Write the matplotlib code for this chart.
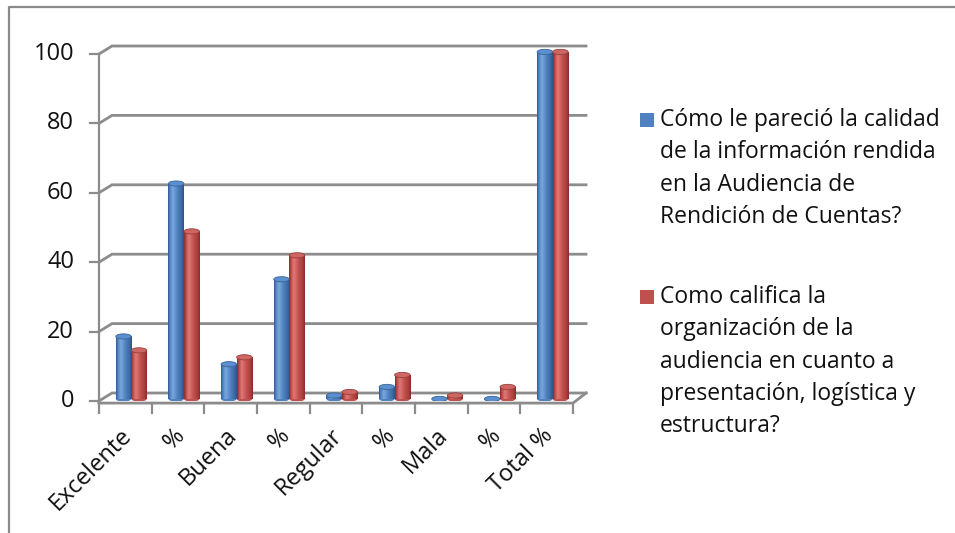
import numpy as np
import matplotlib
matplotlib.use("Agg")
import matplotlib.pyplot as plt
from matplotlib.patches import Ellipse, Rectangle
from matplotlib.colors import LinearSegmentedColormap
from matplotlib.lines import Line2D

# ---------------- data ----------------
categories = ["Excelente", "%", "Buena", "%", "Regular", "%", "Mala", "%", "Total %"]
serie_calidad = [18, 62.07, 10, 34.48, 1, 3.45, 0, 0, 100]
serie_organizacion = [14, 48.28, 12, 41.38, 2, 6.90, 1, 3.45, 100]
series_names = [
    "Cómo le pareció la calidad\nde la información rendida\nen la Audiencia de\nRendición de Cuentas?",
    "Como califica la\norganización de la\naudiencia en cuanto a\npresentación, logística y\nestructura?",
]
yticks = [0, 20, 40, 60, 80, 100]

plt.rcParams["font.family"] = ["Open Sans", "DejaVu Sans"]

W, H = 955, 533
PXX = 52.67   # pixels per category
PXY = 3.47    # pixels per value unit
fig = plt.figure(figsize=(W / 100, H / 100), dpi=100)
ax = fig.add_axes([99 / W, (H - 401) / H, 9.3 * PXX / W, 103 * PXY / H])
ax.axis("off")

dx = 13 / PXX
dy = 8 / PXY
grid_c = "#8c8c8c"
txt_c = "#111111"
FS = 17

# chart border
fig.add_artist(Line2D([9 / W, 9 / W, 1.0], [0.0, 1 - 7 / H, 1 - 7 / H],
                      transform=fig.transFigure, color="#8a8a8a", lw=1.6))

# back wall grid lines + value axis
for v in yticks:
    ax.plot([-0.5, -0.5 + dx, 8.5 + dx], [v, v + dy, v + dy], color=grid_c,
            lw=2.0, clip_on=False, zorder=1, solid_joinstyle="miter")
    ax.plot([-0.5 - 9 / PXX, -0.5], [v, v], color=grid_c, lw=1.6, clip_on=False, zorder=1)
    ax.text(-0.5 - 25 / PXX, v, str(v), ha="right", va="center", fontsize=FS,
            color=txt_c, clip_on=False)
ax.plot([-0.5, -0.5], [-0.5, 100], color=grid_c, lw=1.6, clip_on=False, zorder=1)

# floor front edge and category ticks
fy = -0.6
ax.plot([-0.5, 8.5, 8.5 + dx], [fy, fy, dy], color=grid_c, lw=2.0, clip_on=False, zorder=1)
for k in range(len(categories) + 1):
    ax.plot([-0.5 + k, -0.5 + k], [fy, fy - 2.8], color=grid_c, lw=1.6, clip_on=False, zorder=1)
for i, c in enumerate(categories):
    ax.text(i + 3 / PXX, -9.0, c, rotation=45, ha="right", va="center",
            rotation_mode="anchor", fontsize=FS, color=txt_c, clip_on=False)

# cylinders
w = 15.5 / PXX
base = 0.6
eh = 1.5
styles = [
    dict(off=-0.035, cols=["#2f5689", "#5283c2", "#79a8e0", "#4f81bd", "#3d6aa3", "#2c5283"],
         top="#5b8fcf", edge="#3a659c", face="#4f81bd"),
    dict(off=0.26, cols=["#7f2c2a", "#b84a47", "#df7a77", "#c0504d", "#a83f3c", "#822c2a"],
         top="#cf6663", edge="#97403d", face="#c0504d"),
]
series = [serie_calidad, serie_organizacion]
x = np.arange(len(categories))
grad = np.linspace(0, 1, 256).reshape(1, -1)
for s, (vals, st) in enumerate(zip(series, styles)):
    cmap = LinearSegmentedColormap.from_list(
        "c%d" % s, list(zip([0, 0.12, 0.3, 0.6, 0.85, 1.0], st["cols"])))
    bars = ax.bar(x + st["off"], vals, width=w, bottom=base, color=st["face"],
                  zorder=3 + s, linewidth=0)
    for xi, v, p in zip(x, vals, bars):
        xc = xi + st["off"]
        ax.add_patch(Ellipse((xc, base), w, eh, facecolor=st["cols"][3],
                             edgecolor="none", zorder=2.9 + s))
        if v > 0:
            im = ax.imshow(grad, extent=[xc - w / 2, xc + w / 2, base, base + v],
                           cmap=cmap, aspect="auto", zorder=3.1 + s, interpolation="bilinear")
            im.set_clip_path(p)
        ax.add_patch(Ellipse((xc, base + v), w, eh, facecolor=st["top"],
                             edgecolor=st["edge"], lw=0.6, zorder=3.2 + s))

ax.set_xlim(-0.5, 8.8)
ax.set_ylim(0, 103)

# legend
leg_cols = ["#4f81bd", "#c0504d"]
first_line_y = [120, 297]
LS = 32.3
for name, col, y0 in zip(series_names, leg_cols, first_line_y):
    fig.add_artist(Rectangle((640 / W, 1 - (y0 + 7) / H), 14 / W, 14 / H,
                             transform=fig.transFigure, facecolor=col, edgecolor="none"))
    for j, line in enumerate(name.split("\n")):
        fig.text(660 / W, 1 - (y0 + j * LS) / H, line, ha="left", va="center",
                 fontsize=16.5, color=txt_c)

fig.savefig("out.png", dpi=100)
